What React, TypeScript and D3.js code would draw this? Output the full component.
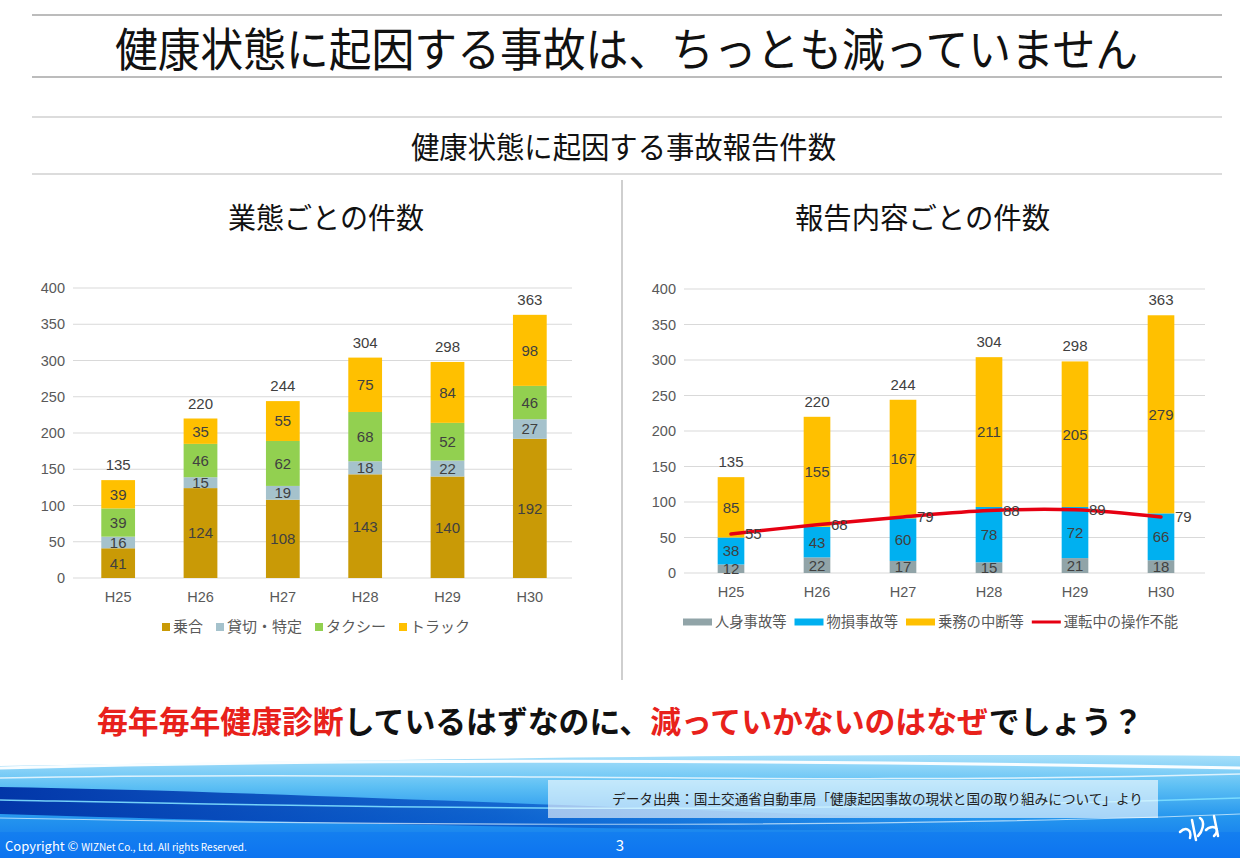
import React from "react";
import * as d3 from "d3";

const years = ["H25", "H26", "H27", "H28", "H29", "H30"];
// 業態ごとの件数
const noriai = [41, 124, 108, 143, 140, 192];
const kashikiri = [16, 15, 19, 18, 22, 27];
const taxi = [39, 46, 62, 68, 52, 46];
const truck = [39, 35, 55, 75, 84, 98];
const leftNames = ["乗合", "貸切・特定", "タクシー", "トラック"];
const leftColors = ["#C99A06", "#A5C2CC", "#92D050", "#FFC000"];
// 報告内容ごとの件数
const jinshin = [12, 22, 17, 15, 21, 18];
const butsuson = [38, 43, 60, 78, 72, 66];
const chudan = [85, 155, 167, 211, 205, 279];
const sousaFunou = [55, 68, 79, 88, 89, 79];
const rightNames = ["人身事故等", "物損事故等", "乗務の中断等", "運転中の操作不能"];
const rightColors = ["#91A4A8", "#00B0F0", "#FFC000", "#E60012"];
const yTicks = [0, 50, 100, 150, 200, 250, 300, 350, 400];

const JP = "'Noto Sans CJK JP', 'Noto Sans', sans-serif";
const AR = "'Liberation Sans', Arial, sans-serif";

type StackChartProps = {
  series: number[][];
  colors: string[];
  x0: number; x1: number; y0: number; y1: number;
  barRatio: number;
  line?: number[];
  lineColor?: string;
};

function StackChart({ series, colors, x0, x1, y0, y1, barRatio, line, lineColor }: StackChartProps) {
  const x = d3.scaleBand<string>().domain(years).range([x0, x1]).paddingInner(1 - barRatio).paddingOuter((1 - barRatio) / 2);
  const y = d3.scaleLinear().domain([0, 400]).range([y0, y1]);
  const keys = series.map((_, i) => "s" + i);
  const rows = years.map((yr, j) => {
    const r: any = { year: yr };
    series.forEach((s, i) => (r["s" + i] = s[j]));
    return r;
  });
  const stack = d3.stack<any>().keys(keys)(rows);
  const totals = years.map((_, j) => d3.sum(series, (s) => s[j]));
  const cx = (yr: string) => (x(yr) as number) + x.bandwidth() / 2;
  const lineGen = d3.line<number>().x((_, j) => cx(years[j])).y((v) => y(v)).curve(d3.curveCatmullRom.alpha(0.5));
  return (
    <g>
      {yTicks.map((t) => (
        <g key={t}>
          <line x1={x0 - 4} x2={x1 + 1} y1={y(t)} y2={y(t)} stroke="#D9D9D9" strokeWidth={1} />
          <text x={x0 - 12} y={y(t)} dy="0.36em" textAnchor="end" fontFamily={AR} fontSize={14.5} fill="#595959">{t}</text>
        </g>
      ))}
      {stack.map((layer, i) => (
        <g key={i}>
          {layer.map((d, j) => (
            <rect key={j} x={x(years[j])} width={x.bandwidth()} y={y(d[1])} height={y(d[0]) - y(d[1])} fill={colors[i]} />
          ))}
        </g>
      ))}
      {stack.map((layer, i) => (
        <g key={"l" + i}>
          {layer.map((d, j) => (
            <text key={j} x={cx(years[j])} y={(y(d[0]) + y(d[1])) / 2} dy="0.36em" textAnchor="middle" fontFamily={AR} fontSize={15} fill="#404040">
              {series[i][j]}
            </text>
          ))}
        </g>
      ))}
      {totals.map((t, j) => (
        <text key={j} x={cx(years[j])} y={y(t) - 10} textAnchor="middle" fontFamily={AR} fontSize={15} fill="#404040">{t}</text>
      ))}
      {line && (
        <g>
          <path d={lineGen(line) || ""} fill="none" stroke={lineColor} strokeWidth={3.5} strokeLinecap="round" />
          {line.map((v, j) => (
            <text key={j} x={cx(years[j]) + 14} y={y(v)} dy="0.36em" textAnchor="start" fontFamily={AR} fontSize={15} fill="#404040">{v}</text>
          ))}
        </g>
      )}
      {years.map((yr) => (
        <text key={yr} x={cx(yr)} y={y0 + 24} textAnchor="middle" fontFamily={AR} fontSize={14.5} fill="#595959">{yr}</text>
      ))}
    </g>
  );
}

function Legend({ names, colors, x, y, kinds, fs }: { names: string[]; colors: string[]; x: number; y: number; kinds: string[]; fs: number }) {
  let cur = x;
  const items = names.map((n, i) => {
    const sw = kinds[i] === "sq" ? 8 : 29;
    const startX = cur;
    const textX = startX + sw + 3;
    const w = n.length * fs;
    cur = textX + w + (kinds[i] === "sq" ? 13 : 8);
    return { n, c: colors[i], startX, textX, sw, kind: kinds[i] };
  });
  return (
    <g>
      {items.map((it, i) => (
        <g key={i}>
          {it.kind === "sq" ? (
            <rect x={it.startX} y={y - 4} width={8} height={8} fill={it.c} />
          ) : (
            <line x1={it.startX} x2={it.startX + it.sw} y1={y} y2={y} stroke={it.c} strokeWidth={it.kind === "line" ? 3 : 7} />
          )}
          <text x={it.textX} y={y} dy="0.36em" fontFamily={JP} fontSize={fs} fill="#595959">{it.n}</text>
        </g>
      ))}
    </g>
  );
}

export default function App() {
  const W = 1240, H = 858;
  return (
    <svg width={W} height={H} style={{ position: "absolute", left: 0, top: 0, display: "block" }} xmlns="http://www.w3.org/2000/svg">
      <defs>
        <linearGradient id="bandGrad" x1="0" y1="0" x2="0" y2="1">
          <stop offset="0" stopColor="#A9E0FA" />
          <stop offset="0.3" stopColor="#5EC0F4" />
          <stop offset="0.6" stopColor="#2596EE" />
          <stop offset="1" stopColor="#0B6FEF" />
        </linearGradient>
        <linearGradient id="darkBand" x1="0" y1="0" x2="1" y2="0">
          <stop offset="0" stopColor="#0236A8" stopOpacity="1" />
          <stop offset="0.4" stopColor="#0550C4" stopOpacity="0.75" />
          <stop offset="0.8" stopColor="#0A63D2" stopOpacity="0.0" />
        </linearGradient>
      </defs>
      <rect x={0} y={0} width={W} height={H} fill="#FFFFFF" />

      {/* header lines and titles */}
      <line x1={32} x2={1222} y1={15} y2={15} stroke="#A6A6A6" strokeWidth={1.5} />
      <text x={115} y={66} textLength={1023} lengthAdjust="spacingAndGlyphs" fontFamily={JP} fontSize={46} fill="#111">健康状態に起因する事故は、ちっとも減っていません</text>
      <line x1={32} x2={1222} y1={77} y2={77} stroke="#A6A6A6" strokeWidth={1.5} />
      <line x1={32} x2={1222} y1={117} y2={117} stroke="#D0D0D0" strokeWidth={1.5} />
      <text x={411} y={158} textLength={425} lengthAdjust="spacingAndGlyphs" fontFamily={JP} fontSize={30} fill="#111">健康状態に起因する事故報告件数</text>
      <line x1={32} x2={1222} y1={174} y2={174} stroke="#D0D0D0" strokeWidth={1.5} />
      <line x1={622} x2={622} y1={180} y2={680} stroke="#BFBFBF" strokeWidth={1.5} />

      <text x={228} y={229} textLength={196} lengthAdjust="spacingAndGlyphs" fontFamily={JP} fontSize={29} fill="#111">業態ごとの件数</text>
      <text x={795} y={229} textLength={255} lengthAdjust="spacingAndGlyphs" fontFamily={JP} fontSize={29} fill="#111">報告内容ごとの件数</text>

      <StackChart series={[noriai, kashikiri, taxi, truck]} colors={leftColors} x0={77} x1={571} y0={578} y1={288} barRatio={0.41} />
      <StackChart series={[jinshin, butsuson, chudan]} colors={rightColors} x0={688} x1={1204} y0={573} y1={289} barRatio={0.31} line={sousaFunou} lineColor={rightColors[3]} />

      <Legend names={leftNames} colors={leftColors} x={162} y={627} kinds={["sq", "sq", "sq", "sq"]} fs={15} />
      <Legend names={rightNames} colors={rightColors} x={683} y={622} kinds={["bar", "bar", "bar", "line"]} fs={14.3} />

      {/* bottom message */}
      <text x={97} y={733} textLength={1046} lengthAdjust="spacingAndGlyphs" fontFamily={JP} fontSize={31} fontWeight="bold" fill="#111">
        <tspan fill="#E8211B">毎年毎年健康診断</tspan>
        <tspan>しているはずなのに、</tspan>
        <tspan fill="#E8211B">減っていかないのはなぜ</tspan>
        <tspan>でしょう？</tspan>
      </text>

      {/* decorative blue band */}
      <path d="M0,766 C400,760 800,752 1240,756 L1240,858 L0,858 Z" fill="url(#bandGrad)" />
      <path d="M0,787 C250,791 550,806 900,817 C1050,821 1150,819 1240,815 L1240,826 C1000,834 600,832 0,814 Z" fill="url(#darkBand)" />
      <path d="M0,768 C300,760 700,758 1240,768" fill="none" stroke="#FFFFFF" strokeWidth={3} opacity={0.95} />
      <path d="M0,778 C400,770 800,786 1240,774" fill="none" stroke="#FFFFFF" strokeWidth={1.5} opacity={0.75} />
      <path d="M0,800 C300,806 700,816 1240,798" fill="none" stroke="#7FE0FF" strokeWidth={1.5} opacity={0.9} />
      <path d="M0,818 C400,826 900,828 1240,814" fill="none" stroke="#E6F7FF" strokeWidth={1.2} opacity={0.7} />
      <rect x={0} y={832} width={W} height={26} fill="#0E78F0" opacity={0.55} />

      <rect x={548} y={780} width={610} height={38} fill="#FFFFFF" opacity={0.6} />
      <text x={612} y={804} textLength={531} lengthAdjust="spacingAndGlyphs" fontFamily={JP} fontSize={13.5} fill="#222">データ出典：国土交通省自動車局「健康起因事故の現状と国の取り組みについて」より</text>

      <text x={5} y={851} fontFamily={JP} fill="#FFFFFF">
        <tspan fontSize={13}>Copyright © </tspan>
        <tspan fontSize={10}>WIZNet Co., Ltd. All rights Reserved.</tspan>
      </text>
      <text x={620} y={851} textAnchor="middle" fontFamily={JP} fontSize={15} fill="#FFFFFF">3</text>
      <g fill="none" stroke="#FFFFFF" strokeWidth={2.5} strokeLinecap="round">
        <path d="M1180,832 C1186,826 1192,830 1190,838" />
        <path d="M1192,820 L1196,840" />
        <path d="M1200,818 C1206,822 1202,832 1198,836" />
        <path d="M1206,830 C1212,824 1222,828 1214,836" />
        <path d="M1214,816 L1218,836" />
      </g>
    </svg>
  );
}
